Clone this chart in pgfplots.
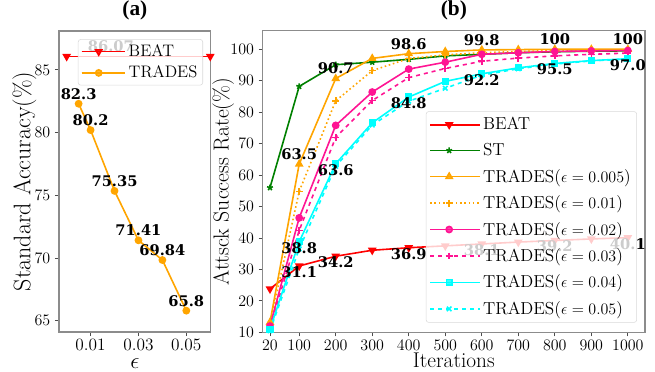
\documentclass[border=0pt]{standalone}
\usepackage{fontspec}
\usepackage{pgfplots}
\pgfplotsset{compat=1.18}
\newfontfamily\dvs{DejaVu Serif}
\newfontfamily\tnr{Liberation Serif}
\newcommand{\vlab}{\dvs\bfseries\fontsize{11}{13}\selectfont}
\definecolor{mred}{HTML}{FF0000}
\definecolor{mgreen}{HTML}{008000}
\definecolor{morange}{HTML}{FFA500}
\definecolor{mpink}{HTML}{FF1493}
\definecolor{mcyan}{HTML}{00FFFF}
\pgfplotsset{
  common/.style={
    scale only axis,
    axis line style={black!45, line width=0.8pt},
    tick style={black!70, line width=0.6pt},
    tick align=outside,
    major tick length=3pt,
    xtick pos=bottom, ytick pos=left,
    scaled x ticks=false, scaled y ticks=false,
    xticklabel style={/pgf/number format/1000 sep={}, yshift=1pt},
    ticklabel style={font=\fontsize{13}{15}\selectfont},
    title style={font=\tnr\bfseries\fontsize{16}{18}\selectfont, at={(0.5,1)}, anchor=center, yshift=9.5pt},
    legend cell align=left,
    legend image code/.code={\draw[mark repeat=2,mark phase=2] plot coordinates {(0cm,0cm)(0.5cm,0cm)(1.0cm,0cm)};\path (0,0) -- (1.3cm,0);},
  },
  above/.style={forget plot, draw=none, nodes near coords, point meta=explicit symbolic,
    nodes near coords style={font=\vlab, anchor=center, yshift=7.5pt, text=black}},
  below/.style={forget plot, draw=none, nodes near coords, point meta=explicit symbolic,
    nodes near coords style={font=\vlab, anchor=center, yshift=-4.5pt, text=black}},
}
\begin{document}
\begin{tikzpicture}
\path[use as bounding box] (0,0) rectangle (491.25pt,278.25pt);
% ---------------- (a) ----------------
\begin{axis}[common,
  at={(44.25pt,29.25pt)}, anchor=south west,
  width=113.8pt, height=225.75pt,
  xmin=-0.0032, xmax=0.0602, ymin=64.1, ymax=88.1,
  xtick={0.01,0.03,0.05}, xticklabels={0.01,0.03,0.05},
  ytick={65,70,75,80,85},
  title={(a)},
  xlabel={$\epsilon$}, xlabel style={font=\fontsize{18}{20}\selectfont, at={(axis description cs:0.5,-0.105)}, anchor=center},
  ylabel={Standard Accuracy(\%)}, ylabel style={font=\fontsize{18}{20}\selectfont, at={(axis description cs:-0.228,0.5)}, anchor=center},
  legend style={at={(0.949,0.973)}, anchor=north east, font=\fontsize{12.5}{14}\selectfont,
    draw=black!15, rounded corners=2pt, fill=white, fill opacity=0.8, text opacity=1,
    inner sep=2pt, row sep=1.5pt},
  legend image code/.code={\draw[mark repeat=2,mark phase=2] plot coordinates {(0cm,0cm)(0.45cm,0cm)(0.9cm,0cm)};\path (0,0) -- (1.15cm,0);},
]
\addplot[mred, line width=1.2pt, mark=triangle*, mark options={rotate=180, scale=1}, mark size=2.6pt] coordinates {(0,86.07) (0.06,86.07)};
\addlegendentry{BEAT}
\addplot[morange, line width=1.2pt, mark=*, mark size=2.3pt] coordinates {
(0.005,82.3) (0.01,80.2) (0.02,75.35) (0.03,71.41) (0.04,69.84) (0.05,65.8)};
\addlegendentry{TRADES}
\addplot[above] table[meta=l] {
x y l
0.005 82.3 82.3
0.01 80.2 80.2
0.02 75.35 75.35
0.03 71.41 71.41
0.04 69.84 69.84
0.05 65.8 65.8
0.0185 86.07 86.07
};
\end{axis}
% ---------------- (b) ----------------
\begin{axis}[common,
  at={(197pt,29pt)}, anchor=south west,
  width=286.75pt, height=226.2pt,
  xmin=0, xmax=1047, ymin=10, ymax=105.9,
  xtick={20,100,200,300,400,500,600,700,800,900,1000},
  ytick={10,20,30,40,50,60,70,80,90,100},
  title={(b)},
  xlabel={Iterations}, xlabel style={font=\fontsize{16}{18}\selectfont, at={(axis description cs:0.5,-0.093)}, anchor=center},
  ylabel={Attsck Success Rate(\%)}, ylabel style={font=\fontsize{16.3}{18}\selectfont, at={(axis description cs:-0.103,0.5)}, anchor=center},
  legend style={at={(0.979,0.032)}, anchor=south east, font=\fontsize{13}{15}\selectfont,
    draw=black!15, rounded corners=2pt, fill=white, fill opacity=0.8, text opacity=1,
    inner sep=2.5pt, row sep=4.6pt},
]
\addplot[mred, line width=1.2pt, mark=triangle*, mark options={rotate=180}, mark size=2.6pt] coordinates {
(20,23.8) (100,31.1) (200,34.2) (300,36.1) (400,36.9) (500,37.5) (600,38.1) (700,38.7) (800,39.2) (900,39.7) (1000,40.1)};
\addlegendentry{BEAT}
\addplot[mgreen, line width=1.2pt, mark=star, mark size=2.3pt] coordinates {
(20,56.0) (100,88.2) (200,95.1) (300,95.9) (400,96.8) (500,97.9) (600,98.4) (700,98.9) (800,99.2) (900,99.4) (1000,99.5)};
\addlegendentry{ST}
\addplot[morange, line width=1.2pt, mark=triangle*, mark size=2.6pt] coordinates {
(20,13.2) (100,63.5) (200,90.7) (300,97.1) (400,98.6) (500,99.3) (600,99.8) (700,99.9) (800,100) (900,100) (1000,100)};
\addlegendentry{TRADES($\epsilon=0.005$)}
\addplot[morange, line width=1.2pt, dotted, mark=+, mark options={solid}, mark size=2.6pt] coordinates {
(20,12.5) (100,54.8) (200,83.6) (300,93.2) (400,97.1) (500,98.2) (600,98.9) (700,99.3) (800,99.6) (900,99.7) (1000,99.8)};
\addlegendentry{TRADES($\epsilon=0.01$)}
\addplot[mpink, line width=1.2pt, mark=*, mark size=2.3pt] coordinates {
(20,12.0) (100,46.4) (200,75.8) (300,86.4) (400,93.7) (500,95.9) (600,98.4) (700,98.9) (800,99.3) (900,99.5) (1000,99.6)};
\addlegendentry{TRADES($\epsilon=0.02$)}
\addplot[mpink, line width=1.2pt, dashed, mark=+, mark options={solid}, mark size=2.6pt] coordinates {
(20,11.5) (100,42.4) (200,72.0) (300,83.7) (400,91.0) (500,93.9) (600,96.2) (700,97.2) (800,97.9) (900,98.4) (1000,98.8)};
\addlegendentry{TRADES($\epsilon=0.03$)}
\addplot[mcyan, line width=1.2pt, mark=square*, mark size=2.1pt] coordinates {
(20,11.0) (100,38.8) (200,63.6) (300,76.6) (400,84.8) (500,89.8) (600,92.2) (700,94.1) (800,95.5) (900,96.4) (1000,97.0)};
\addlegendentry{TRADES($\epsilon=0.04$)}
\addplot[mcyan, line width=1.2pt, dashed, mark=x, mark options={solid}, mark size=2.4pt] coordinates {
(20,10.5) (100,36.5) (200,62.8) (300,75.9) (400,83.5) (500,87.6) (600,91.8) (700,93.8) (800,95.3) (900,96.3) (1000,96.9)};
\addlegendentry{TRADES($\epsilon=0.05$)}
\addplot[above] table[meta=l] {
x y l
100 63.5 63.5
200 90.7 90.7
400 98.6 98.6
600 99.8 99.8
800 100 100
1000 100 100
};
\addplot[below] table[meta=l] {
x y l
100 38.8 38.8
200 63.6 63.6
400 84.8 84.8
600 92.2 92.2
800 95.5 95.5
1000 97.0 97.0
100 31.1 31.1
200 34.2 34.2
400 36.9 36.9
600 38.1 38.1
800 39.2 39.2
1000 40.1 40.1
};
\end{axis}
\end{tikzpicture}
\end{document}
